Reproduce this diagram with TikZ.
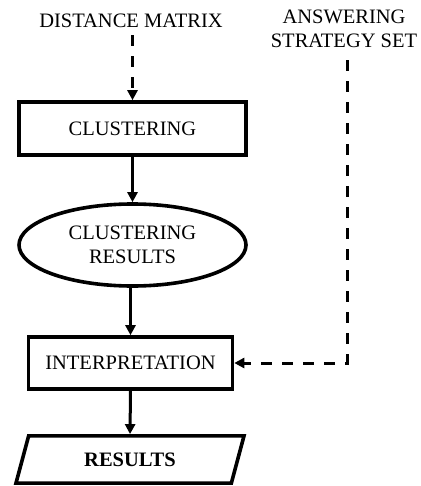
\documentclass[tikz,border=0pt]{standalone}
\usepackage{fontspec}
\setmainfont{Liberation Serif}
\usetikzlibrary{arrows.meta, shapes.geometric}

\begin{document}
\begin{tikzpicture}[x=1pt,y=-1pt,
    box/.style={draw, line width=3.6pt, rectangle, inner sep=0pt},
    flow/.style={line width=3pt, -{Triangle[length=10pt,width=10pt]}},
    dflow/.style={flow, dash pattern=on 11pt off 10pt},
    txt/.style={font=\fontsize{20.5}{24}\selectfont, align=center}]
    \useasboundingbox (0,0) rectangle (420,486);
    \node[txt] (dist) at (131,21) {DISTANCE MATRIX};
    \node[txt] (ans) at (344,29) {ANSWERING\\STRATEGY SET};
    \node[box,txt,minimum width=227pt,minimum height=53pt] (clus) at (132.5,128.5) {CLUSTERING};
    \node[box,txt,ellipse,minimum width=227pt,minimum height=82pt] (cres) at (132.5,245) {CLUSTERING\\RESULTS};
    \node[box,txt,minimum width=204pt,minimum height=52pt] (interp) at (130.5,363) {INTERPRETATION};
    \node[box,trapezium,trapezium left angle=75,trapezium right angle=105,trapezium stretches body,
        inner ysep=16.7pt,minimum width=228pt,align=center,
        font=\fontsize{20.5}{24}\selectfont\bfseries] (res) at (130,459.5) {RESULTS};
    \coordinate (bend) at (347,363);

    \draw[dflow, shorten <=4pt] (clus.north |- dist.south) -- (clus.north);
    \draw[flow] (clus.south) -- (cres.north);
    \draw[flow] (interp.north |- cres.south) -- (interp.north);
    \draw[flow] (interp.south) -- (res.north);
    \draw[dflow, shorten <=9pt] (ans.south -| bend) -- (bend) -- (interp.east);
\end{tikzpicture}
\end{document}
